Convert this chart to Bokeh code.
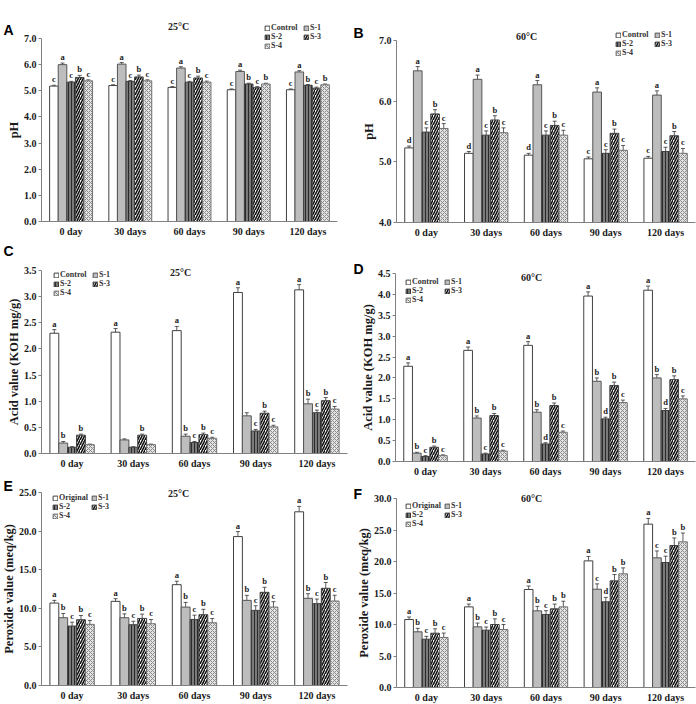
from bokeh.plotting import figure
from bokeh.layouts import column, row
from bokeh.models import (ColumnDataSource, Whisker, TeeHead, Label, Legend,
                          LegendItem, FixedTicker, Range1d, NumeralTickFormatter)
from bokeh.core.properties import value
from bokeh.embed import file_html
from bokeh.resources import INLINE

days = ["0 day", "30 days", "60 days", "90 days", "120 days"]
series_ctrl = ["Control", "S-1", "S-2", "S-3", "S-4"]
series_orig = ["Original", "S-1", "S-2", "S-3", "S-4"]

# ---- pH at 25 C (rows: Control, S-1, S-2, S-3, S-4) ----
ph25 = [[5.18, 5.20, 5.13, 5.04, 5.04],
        [6.00, 6.02, 5.87, 5.74, 5.72],
        [5.33, 5.36, 5.33, 5.26, 5.21],
        [5.51, 5.53, 5.49, 5.12, 5.10],
        [5.38, 5.38, 5.33, 5.26, 5.23]]
ph25_err = [[0.03, 0.03, 0.03, 0.03, 0.03],
            [0.06, 0.06, 0.05, 0.05, 0.05],
            [0.03, 0.03, 0.03, 0.03, 0.03],
            [0.08, 0.07, 0.07, 0.04, 0.04],
            [0.04, 0.04, 0.04, 0.03, 0.03]]
ph25_sig = [["c", "c", "c", "c", "c"],
            ["a", "a", "a", "a", "a"],
            ["c", "c", "c", "b", "b"],
            ["b", "b", "b", "c", "c"],
            ["c", "c", "c", "b", "b"]]

# ---- pH at 60 C ----
ph60 = [[5.23, 5.14, 5.11, 5.05, 5.06],
        [6.50, 6.36, 6.27, 6.15, 6.10],
        [5.49, 5.44, 5.44, 5.14, 5.17],
        [5.79, 5.69, 5.60, 5.47, 5.43],
        [5.55, 5.48, 5.44, 5.19, 5.14]]
ph60_err = [[0.03, 0.03, 0.03, 0.03, 0.03],
            [0.07, 0.07, 0.07, 0.07, 0.07],
            [0.07, 0.07, 0.07, 0.06, 0.07],
            [0.07, 0.07, 0.07, 0.07, 0.07],
            [0.08, 0.08, 0.08, 0.08, 0.08]]
ph60_sig = [["d", "d", "d", "c", "c"],
            ["a", "a", "a", "a", "a"],
            ["c", "c", "c", "c", "c"],
            ["b", "b", "b", "b", "b"],
            ["c", "c", "c", "c", "c"]]

# ---- Acid value at 25 C ----
av25 = [[2.30, 2.32, 2.35, 3.08, 3.13],
        [0.20, 0.26, 0.33, 0.72, 0.95],
        [0.12, 0.12, 0.21, 0.43, 0.78],
        [0.35, 0.35, 0.36, 0.77, 1.01],
        [0.17, 0.17, 0.29, 0.51, 0.85]]
av25_err = [[0.07, 0.07, 0.08, 0.09, 0.10],
            [0.03, 0.02, 0.04, 0.06, 0.09],
            [0.01, 0.01, 0.02, 0.03, 0.05],
            [0.02, 0.02, 0.03, 0.04, 0.06],
            [0.01, 0.01, 0.02, 0.03, 0.05]]
av25_sig = [["a", "a", "a", "a", "a"],
            ["b", "", "b", "", "b"],
            ["", "", "c", "c", "c"],
            ["b", "b", "b", "b", "b"],
            ["", "", "c", "c", "c"]]

# ---- Acid value at 60 C ----
av60 = [[2.28, 2.66, 2.78, 3.96, 4.10],
        [0.20, 1.04, 1.18, 1.92, 2.00],
        [0.12, 0.18, 0.42, 1.02, 1.22],
        [0.34, 1.10, 1.34, 1.82, 1.96],
        [0.14, 0.25, 0.70, 1.41, 1.50]]
av60_err = [[0.08, 0.08, 0.09, 0.10, 0.10],
            [0.02, 0.05, 0.06, 0.08, 0.08],
            [0.02, 0.02, 0.03, 0.04, 0.05],
            [0.03, 0.05, 0.06, 0.08, 0.09],
            [0.02, 0.02, 0.03, 0.06, 0.07]]
av60_sig = [["a", "a", "a", "a", "a"],
            ["b", "b", "b", "b", "b"],
            ["c", "c", "d", "d", "d"],
            ["b", "b", "b", "b", "b"],
            ["c", "c", "c", "c", "c"]]

# ---- Peroxide value at 25 C ----
pv25 = [[10.68, 10.90, 13.06, 19.29, 22.50],
        [8.78, 8.78, 10.16, 11.03, 11.29],
        [7.70, 7.87, 8.56, 9.73, 10.60],
        [8.52, 8.69, 9.17, 12.07, 12.59],
        [7.92, 8.00, 8.13, 10.16, 10.94]]
pv25_err = [[0.35, 0.35, 0.45, 0.65, 0.70],
            [0.55, 0.50, 0.60, 0.65, 0.60],
            [0.50, 0.45, 0.55, 0.60, 0.60],
            [0.55, 0.55, 0.70, 0.65, 0.75],
            [0.50, 0.55, 0.55, 0.70, 0.75]]
pv25_sig = [["a", "a", "a", "a", "a"],
            ["b", "b", "b", "b", "b"],
            ["c", "c", "c", "c", "c"],
            ["b", "b", "b", "b", "b"],
            ["c", "c", "c", "c", "c"]]

# ---- Peroxide value at 60 C ----
pv60 = [[10.79, 12.80, 15.56, 20.10, 25.93],
        [8.84, 9.63, 12.17, 15.60, 20.58],
        [7.67, 9.10, 11.59, 13.60, 19.84],
        [8.62, 10.00, 12.49, 16.93, 22.54],
        [7.94, 9.20, 12.80, 18.04, 23.12]]
pv60_err = [[0.40, 0.45, 0.55, 0.70, 0.90],
            [0.55, 0.60, 0.70, 0.85, 1.10],
            [0.45, 0.50, 0.60, 0.70, 1.00],
            [0.70, 0.90, 0.75, 1.00, 1.20],
            [0.70, 0.80, 0.90, 0.95, 1.40]]
pv60_sig = [["a", "a", "a", "a", "a"],
            ["b", "b", "b", "c", "c"],
            ["c", "c", "c", "d", "c"],
            ["b", "b", "b", "b", "b"],
            ["c", "c", "b", "b", "b"]]

SERIF = "Liberation Serif"
SANS = "Liberation Sans"

BAR_W = 0.145
OFFSETS = [-2 * BAR_W, -BAR_W, 0.0, BAR_W, 2 * BAR_W]
STYLES = [
    dict(fill_color="white", line_color="#404040"),
    dict(fill_color="#bdbdbd", line_color="#555555"),
    dict(fill_color="#7a7a7a", line_color="#404040", hatch_pattern="vertical_line",
         hatch_color="#2a2a2a", hatch_scale=3, hatch_weight=1),
    dict(fill_color="white", line_color="#404040", hatch_pattern="right_diagonal_line",
         hatch_color="#111111", hatch_scale=5, hatch_weight=1.6),
    dict(fill_color="#e4e4e4", line_color="#707070", hatch_pattern="diagonal_cross",
         hatch_color="#8a8a8a", hatch_scale=4, hatch_weight=1),
]


def panel(letter, title, vals, errs, sigs, names, ylabel, ymin, ymax, ystep,
          w, h, box, title_xy, letter_xy, leg_xy):
    # box = pixel positions of the axes (left, right, top, bottom) inside the figure
    l, r, t, b = box
    sx = (r - l) / 5.0
    sy = (b - t) / (ymax - ymin)
    xr = Range1d(-0.5 - l / sx, 4.5 + (w - r) / sx)
    yr = Range1d(ymin - (h - b) / sy, ymax + t / sy)
    p = figure(width=w, height=h, output_backend="svg", toolbar_location=None,
               x_range=xr, y_range=yr, min_border=0)
    p.outline_line_color = None
    p.grid.visible = False
    p.background_fill_color = "white"
    p.border_fill_color = "white"

    items = []
    for k in range(5):
        xs = [i + OFFSETS[k] for i in range(5)]
        up = [v + e for v, e in zip(vals[k], errs[k])]
        lo = [v - e for v, e in zip(vals[k], errs[k])]
        src = ColumnDataSource(dict(x=xs, top=vals[k], upper=up, lower=lo, sig=sigs[k]))
        rr = p.vbar(x="x", top="top", bottom=ymin, width=BAR_W, source=src,
                    line_width=1, **STYLES[k])
        items.append(LegendItem(label=names[k], renderers=[rr]))
        wk = Whisker(source=src, base="x", upper="upper", lower="lower",
                     line_color="#333333", line_width=0.8,
                     upper_head=TeeHead(size=4, line_color="#333333", line_width=0.8),
                     lower_head=TeeHead(size=4, line_color="#333333", line_width=0.8))
        p.add_layout(wk)
        p.text(x="x", y="upper", text="sig", source=src, text_align="center",
               text_baseline="bottom", y_offset=-1, text_font=value(SERIF),
               text_font_style="bold", text_font_size="8.5px", text_color="#222222")

    ticks = []
    tv = ymin
    while tv <= ymax + 1e-9:
        ticks.append(round(tv, 3))
        tv += ystep
    yaxis = p.yaxis[0]
    yaxis.fixed_location = -0.5
    yaxis.bounds = (ymin, ymax)
    yaxis.ticker = FixedTicker(ticks=ticks)
    yaxis.formatter = NumeralTickFormatter(format="0.0")
    yaxis.axis_label = ylabel
    yaxis.major_tick_out = 3
    yaxis.major_tick_in = 0
    yaxis.major_label_standoff = 2
    yaxis.axis_label_standoff = 0
    yaxis.major_tick_line_color = "#808080"

    xaxis = p.xaxis[0]
    xaxis.fixed_location = ymin
    xaxis.bounds = (-0.5, 4.5)
    xaxis.ticker = FixedTicker(ticks=[0, 1, 2, 3, 4])
    xaxis.major_label_overrides = {i: d for i, d in enumerate(days)}
    xaxis.major_tick_line_color = None
    xaxis.major_tick_out = 0
    xaxis.major_tick_in = 0
    xaxis.major_label_standoff = 4

    for ax in (xaxis, yaxis):
        ax.minor_tick_line_color = None
        ax.axis_line_color = "#808080"
        ax.major_label_text_font = SERIF
        ax.major_label_text_font_style = "bold"
        ax.major_label_text_color = "#1a1a1a"
        ax.axis_label_text_font = SERIF
        ax.axis_label_text_font_style = "bold"
        ax.axis_label_text_font_size = "12.5px"
        ax.axis_label_text_color = "#1a1a1a"
    xaxis.major_label_text_font_size = "10px"
    yaxis.major_label_text_font_size = "10px"

    p.add_layout(Label(x=title_xy[0], y=h - title_xy[1], x_units="screen",
                       y_units="screen", text=title, text_align="center",
                       text_baseline="middle", text_font=SERIF,
                       text_font_style="bold", text_font_size="10px",
                       text_color="#222222"))
    p.add_layout(Label(x=letter_xy[0], y=h - letter_xy[1], x_units="screen",
                       y_units="screen", text=letter, text_align="left",
                       text_baseline="alphabetic", text_font=SANS,
                       text_font_style="bold", text_font_size="14px",
                       text_color="black"))

    leg = Legend(items=items, location=(leg_xy[0], h - leg_xy[1]),
                 orientation="horizontal", ncols=2,
                 label_text_font=SERIF, label_text_font_style="bold",
                 label_text_font_size="8px", label_text_color="#333333",
                 glyph_width=6, glyph_height=6, label_height=6, label_width=32,
                 label_standoff=1, spacing=0, padding=0, margin=0,
                 background_fill_alpha=0, border_line_alpha=0)
    p.add_layout(leg)
    return p


pA = panel("A", "25°C", ph25, ph25_err, ph25_sig, series_ctrl, "pH", 0.0, 7.0, 1.0,
           348, 240, (41, 337, 38, 221), (178, 26), (3, 29), (264, 50))
pB = panel("B", "60°C", ph60, ph60_err, ph60_sig, series_ctrl, "pH", 4.0, 7.0, 1.0,
           348, 240, (48, 347, 40, 222), (178, 36), (5, 32), (267, 57))
pC = panel("C", "25°C", av25, av25_err, av25_sig, series_ctrl, "Acid value (KOH mg/g)",
           0.0, 3.5, 0.5, 348, 234, (41, 347, 30, 213), (180, 32), (3, 10), (53, 57))
pD = panel("D", "60°C", av60, av60_err, av60_sig, series_ctrl, "Acid value (KOH mg/g)",
           0.0, 4.5, 0.5, 348, 240, (47, 347, 33, 221), (183, 37), (5, 28), (57, 64))
pE = panel("E", "25°C", pv25, pv25_err, pv25_sig, series_orig, "Peroxide value (meq/kg)",
           0.0, 25.0, 5.0, 348, 230, (41, 347, 18, 211), (178, 19), (3, 11), (52, 46))
pF = panel("F", "60°C", pv60, pv60_err, pv60_sig, series_orig, "Peroxide value (meq/kg)",
           0.0, 30.0, 5.0, 348, 224, (48, 347, 18, 207), (183, 18), (5, 13), (57, 48))

layout = row(column(pA, pC, pE, spacing=0), column(pB, pD, pF, spacing=0), spacing=0)

open("out.html", "w").write(file_html(layout, INLINE))
